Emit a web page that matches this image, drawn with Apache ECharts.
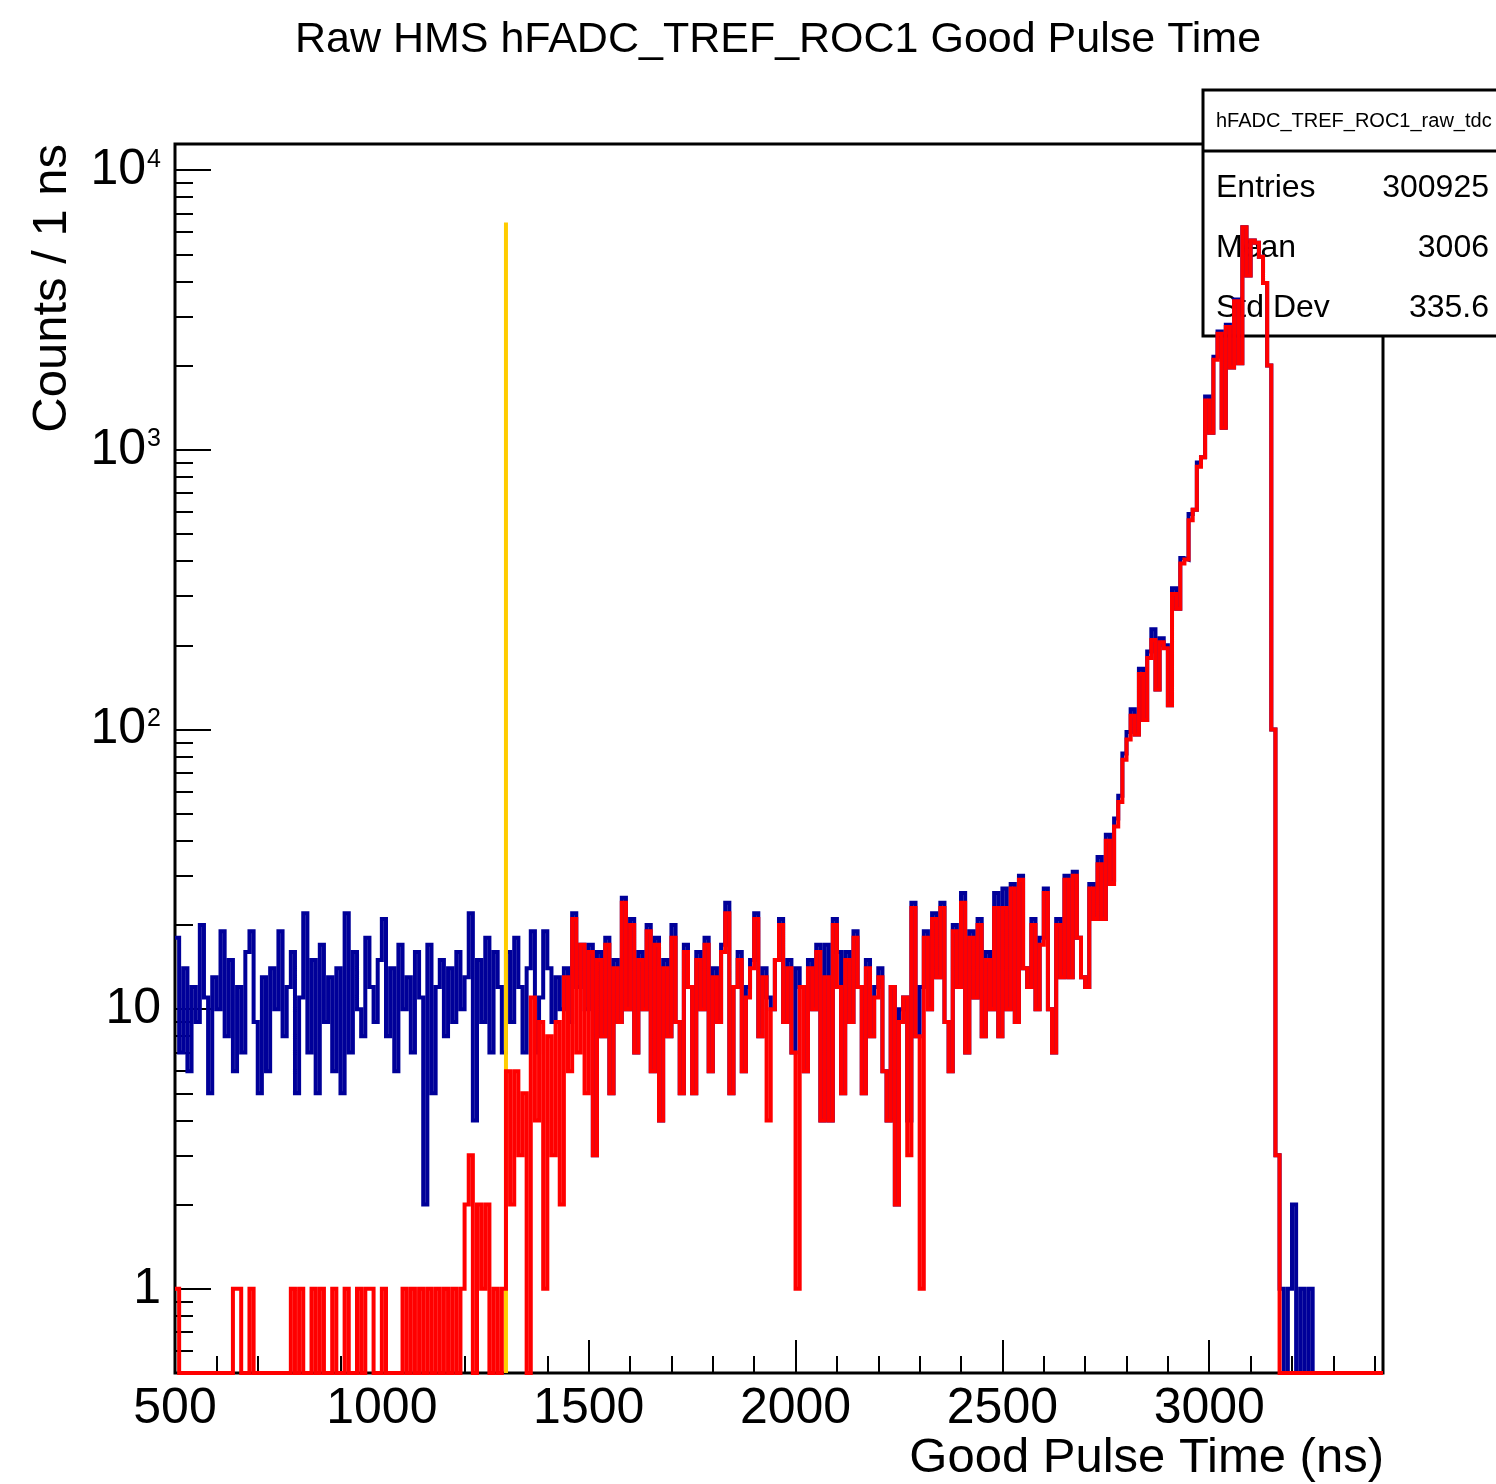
<!DOCTYPE html>
<html>
<head>
<meta charset="utf-8">
<script src="https://cdn.jsdelivr.net/npm/echarts@6/dist/echarts.min.js"></script>
<style>
html, body { margin: 0; padding: 0; background: #ffffff; }
#chart { width: 1496px; height: 1484px; }
</style>
</head>
<body>
<div id="chart"></div>
<script>
// ---------------- data (1 bin = 10 ns, left edges from BIN_START) ----------------
const BIN_START = 500;
const BIN_WIDTH = 10;
const X_MIN = 500;
const X_MAX = 3420;
const Y_MIN = 0.5;
const Y_MAX = 12400;

const X_TICK_LABELS = [500, 1000, 1500, 2000, 2500, 3000];
const Y_DECADES = [0, 1, 2, 3, 4];           // 1, 10, 10^2, 10^3, 10^4

// all hits (blue)
const allCounts = [
  18,7,14,6,12,9,20,11,5,13,          // 500
  10,19,8,15,6,12,7,16,19,9,          // 600
  5,13,6,14,10,19,8,12,16,5,          // 700
  11,22,7,15,5,17,9,13,6,14,          // 800
  5,22,7,16,10,8,18,12,9,15,          // 900
  21,8,14,6,17,10,13,7,16,11,         // 1000
  2,17,5,12,15,8,14,9,16,10,          // 1100
  13,22,4,15,9,18,7,16,12,7,          // 1200
  16,9,18,12,7,14,19,7,11,19,         // 1300
  14,9,13,10,14,9,22,12,17,10,        // 1400
  17,3,16,8,18,5,15,9,25,10,          // 1500
  21,7,16,10,20,6,18,4,15,8,          // 1600
  20,9,5,17,12,5,16,10,18,6,          // 1700
  14,9,17,24,5,12,16,6,12,15,         // 1800
  22,8,14,11,10,15,21,9,15,7,         // 1900
  14,12,6,15,10,17,4,17,4,21,         // 2000
  16,5,16,9,19,12,5,15,8,12,          // 2100
  14,6,4,12,2,10,11,4,24,8,           // 2200
  12,19,10,22,13,24,9,6,20,12,        // 2300
  26,7,19,11,21,8,16,10,26,8,         // 2400
  27,10,28,9,30,14,12,21,10,18,       // 2500
  27,10,7,21,13,30,13,31,18,13,       // 2600
  12,28,21,35,21,42,29,48,58,82,      // 2700
  98,118,96,165,108,190,228,139,212,200,          // 2800
  122,320,270,410,405,590,610,900,940,1550,       // 2900
  1150,2150,2650,1200,2800,1970,3450,2040,6250,4200, // 3000
  5600,5500,4900,3950,2000,100,3,1,0,1,           // 3100
  2,0,1,0,1,0,0,0,0,0,                // 3200
  0,0,0,0,0,0,0,0,0,0,                // 3300
  0,0                                 // 3400
];

// good pulses (red)
const goodCounts = [
  1,0,0,0,0,0,0,0,0,0,                // 500
  0,0,0,0,1,1,0,0,1,0,                // 600
  0,0,0,0,0,0,0,0,1,0,                // 700
  1,0,0,1,0,1,0,0,1,0,                // 800
  0,1,0,0,1,0,1,1,0,0,                // 900
  1,0,0,0,0,1,0,1,0,1,                // 1000
  0,1,0,1,0,1,0,1,0,1,                // 1100
  2,3,0,2,1,2,0,1,0,1,                // 1200
  6,2,6,3,5,0,11,4,9,1,               // 1300
  8,3,9,2,13,6,21,7,17,5,             // 1400
  16,3,15,8,17,5,14,9,24,10,          // 1500
  20,7,15,10,19,6,17,4,14,8,          // 1600
  18,9,5,16,12,5,15,10,17,6,          // 1700
  13,9,16,22,5,12,15,6,11,14,         // 1800
  21,8,13,4,10,15,20,9,14,7,          // 1900
  1,12,6,14,10,16,4,13,4,20,          // 2000
  12,5,15,9,18,12,5,14,8,11,          // 2100
  13,6,4,12,2,9,11,3,23,8,            // 2200
  1,18,10,21,13,23,9,6,19,12,         // 2300
  24,7,18,11,20,8,15,10,23,8,         // 2400
  23,10,27,9,29,14,12,20,10,17,       // 2500
  26,10,7,20,13,29,13,30,18,13,       // 2600
  12,27,21,33,21,40,28,45,55,78,      // 2700
  92,112,96,158,108,180,209,139,205,195,          // 2800
  122,305,270,392,405,560,610,870,940,1500,       // 2900
  1150,2100,2600,1200,2750,1970,3400,2040,6250,4200, // 3000
  5600,5500,4900,3950,2000,100,3,0,0,0,           // 3100
  0,0,0,0,0,0,0,0,0,0,                // 3200
  0,0,0,0,0,0,0,0,0,0,                // 3300
  0,0                                 // 3400
];

// timing cut line
const CUT_TIME = 1300;
const CUT_TOP = 6500;

// stats box
const STATS_NAME = 'hFADC_TREF_ROC1_raw_tdc';
const STATS_LABELS = ['Entries', 'Mean', 'Std Dev'];
const STATS_VALUES = ['300925', '3006', '335.6'];

// ---------------- chart ----------------
const FONT = '"Liberation Sans", Arial, Helvetica, sans-serif';

function toSteps(counts) {
  const pts = counts.map((v, i) => [BIN_START + i * BIN_WIDTH, v > 0 ? v : Y_MIN]);
  pts.push([BIN_START + counts.length * BIN_WIDTH, pts[pts.length - 1][1]]);
  return pts;
}

const xMinor = [];
for (let v = X_MIN + 100; v < X_MAX; v += 100) {
  if (X_TICK_LABELS.indexOf(v) < 0) xMinor.push(v);
}
const yMinor = [];
for (let d = -1; d <= 4; d++) {
  for (let k = 2; k <= 9; k++) {
    const lv = Math.log10(k * Math.pow(10, d));
    if (lv > Math.log10(Y_MIN) + 1e-9 && lv < Math.log10(Y_MAX)) yMinor.push(lv);
  }
}

const chart = echarts.init(document.getElementById('chart'), null, { renderer: 'canvas' });

const tickStyle = { color: '#000', width: 2 };

const option = {
  animation: false,
  backgroundColor: '#ffffff',
  grid: {
    left: 175, right: 113, top: 144, bottom: 111,
    show: true, borderColor: '#000', borderWidth: 3, backgroundColor: 'transparent'
  },
  xAxis: [
    {
      type: 'value', min: X_MIN, max: X_MAX, position: 'bottom',
      axisLine: { show: false, onZero: false }, splitLine: { show: false },
      axisTick: { show: true, inside: true, length: 33, customValues: X_TICK_LABELS, lineStyle: tickStyle },
      axisLabel: {
        show: true, customValues: X_TICK_LABELS, fontSize: 50, fontFamily: FONT, color: '#000', margin: 11,
        formatter: function (v) { return String(v); }
      }
    },
    {
      type: 'value', min: X_MIN, max: X_MAX, position: 'bottom',
      axisLine: { show: false, onZero: false }, splitLine: { show: false },
      axisTick: { show: true, inside: true, length: 17, customValues: xMinor, lineStyle: tickStyle },
      axisLabel: { show: false }
    }
  ],
  yAxis: [
    { type: 'log', logBase: 10, min: Y_MIN, max: Y_MAX, show: false, position: 'left', axisLine: { onZero: false } },
    {
      type: 'value', min: Math.log10(Y_MIN), max: Math.log10(Y_MAX), position: 'left',
      axisLine: { show: false, onZero: false }, splitLine: { show: false },
      axisTick: { show: true, inside: true, length: 36, customValues: Y_DECADES, lineStyle: tickStyle },
      axisLabel: {
        show: true, customValues: Y_DECADES, margin: 14,
        formatter: function (v) {
          const p = Math.round(v);
          if (p === 0) return '{b|1}';
          if (p === 1) return '{b|10}';
          return '{b|10}{s|' + p + '}';
        },
        rich: {
          b: { fontSize: 50, fontFamily: FONT, color: '#000' },
          s: { fontSize: 25, fontFamily: FONT, color: '#000', verticalAlign: 'top', padding: [2, 0, 0, 1] }
        }
      }
    },
    {
      type: 'value', min: Math.log10(Y_MIN), max: Math.log10(Y_MAX), position: 'left',
      axisLine: { show: false, onZero: false }, splitLine: { show: false },
      axisTick: { show: true, inside: true, length: 18, customValues: yMinor, lineStyle: tickStyle },
      axisLabel: { show: false }
    }
  ],
  series: [
    {
      type: 'line', name: 'all', xAxisIndex: 0, yAxisIndex: 0,
      data: toSteps(allCounts), step: 'end', showSymbol: false, symbol: 'none',
      sampling: null, clip: false, z: 2,
      lineStyle: { color: '#000099', width: 4, join: 'miter', cap: 'butt' }
    },
    {
      type: 'line', name: 'cut', xAxisIndex: 0, yAxisIndex: 0,
      data: [[CUT_TIME, Y_MIN], [CUT_TIME, CUT_TOP]], showSymbol: false, symbol: 'none',
      clip: false, z: 3,
      lineStyle: { color: '#ffcc00', width: 4, cap: 'butt' }
    },
    {
      type: 'line', name: 'good', xAxisIndex: 0, yAxisIndex: 0,
      data: toSteps(goodCounts), step: 'end', showSymbol: false, symbol: 'none',
      sampling: null, clip: false, z: 4,
      lineStyle: { color: '#ff0000', width: 4, join: 'miter', cap: 'butt' }
    }
  ],
  graphic: [
    {
      type: 'text', x: 778, y: 40, z: 5,
      style: { text: 'Raw HMS hFADC_TREF_ROC1 Good Pulse Time', fontSize: 43, fontFamily: FONT, fill: '#000', align: 'center', verticalAlign: 'middle' }
    },
    {
      type: 'text', x: 1384, y: 1458, z: 5,
      style: { text: 'Good Pulse Time (ns)', fontSize: 49, fontFamily: FONT, fill: '#000', align: 'right', verticalAlign: 'middle' }
    },
    {
      type: 'text', x: 52, y: 144, rotation: Math.PI / 2, z: 5,
      style: { text: 'Counts / 1 ns', fontSize: 49, fontFamily: FONT, fill: '#000', align: 'right', verticalAlign: 'middle' }
    },
    {
      type: 'rect', z: 1,
      shape: { x: 1203, y: 90, width: 330, height: 246 },
      style: { fill: '#ffffff', stroke: '#000', lineWidth: 3 }
    },
    {
      type: 'line', z: 1.2,
      shape: { x1: 1203, y1: 151, x2: 1510, y2: 151 },
      style: { stroke: '#000', lineWidth: 3 }
    },
    {
      type: 'text', x: 1216, y: 121, z: 1.5,
      style: { text: STATS_NAME, fontSize: 20, fontFamily: FONT, fill: '#000', align: 'left', verticalAlign: 'middle' }
    }
  ].concat(STATS_LABELS.map((t, i) => ({
      type: 'text', x: 1216, y: 188 + i * 60, z: 1.5,
      style: { text: t, fontSize: 32, fontFamily: FONT, fill: '#000', align: 'left', verticalAlign: 'middle' }
    }))).concat(STATS_VALUES.map((t, i) => ({
      type: 'text', x: 1489, y: 188 + i * 60, z: 1.5,
      style: { text: t, fontSize: 32, fontFamily: FONT, fill: '#000', align: 'right', verticalAlign: 'middle' }
    })))
};

chart.setOption(option);
</script>
</body>
</html>
